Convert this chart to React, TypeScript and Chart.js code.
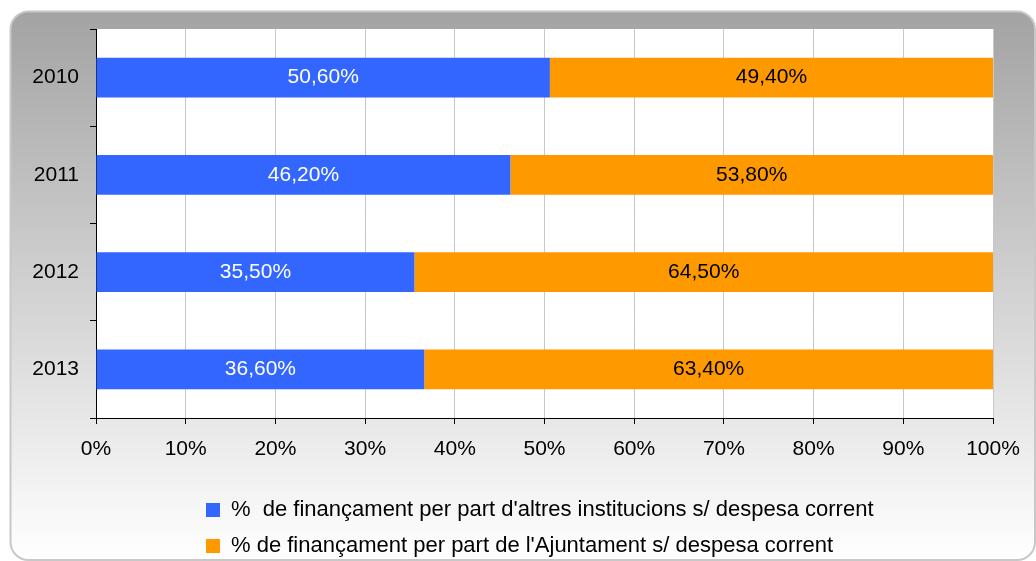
import React, { useEffect, useRef } from "react";
import { Chart, registerables } from "chart.js";

Chart.register(...registerables);

const categories = ["2010", "2011", "2012", "2013"];
const otherInstitutions = [50.6, 46.2, 35.5, 36.6];
const cityCouncil = [49.4, 53.8, 64.5, 63.4];
const seriesNames = [
  "%  de finançament per part d'altres institucions s/ despesa corrent",
  "% de finançament per part de l'Ajuntament s/ despesa corrent",
];
const seriesColors = ["#3366ff", "#ff9900"];
const labelColors = ["#ffffff", "#000000"];

const FONT = "'Liberation Sans', Arial, sans-serif";

const fmt = (v: number) => v.toFixed(2).replace(".", ",") + "%";

const framePlugin = {
  id: "frame",
  beforeDraw(chart: any) {
    const { ctx, chartArea } = chart;
    ctx.save();
    const x = 10.5, y = 11.5, w = 1036 - 11.5, h = 560 - 11.5, r = 18;
    const g = ctx.createLinearGradient(0, y, 0, y + h);
    g.addColorStop(0, "#a3a3a3");
    g.addColorStop(1, "#ffffff");
    ctx.beginPath();
    ctx.moveTo(x + r, y);
    ctx.lineTo(x + w - r, y);
    ctx.arcTo(x + w, y, x + w, y + r, r);
    ctx.lineTo(x + w, y + h - r);
    ctx.arcTo(x + w, y + h, x + w - r, y + h, r);
    ctx.lineTo(x + r, y + h);
    ctx.arcTo(x, y + h, x, y + h - r, r);
    ctx.lineTo(x, y + r);
    ctx.arcTo(x, y, x + r, y, r);
    ctx.closePath();
    ctx.fillStyle = g;
    ctx.fill();
    ctx.lineWidth = 2;
    ctx.strokeStyle = "#c8c8c8";
    ctx.stroke();
    ctx.fillStyle = "#ffffff";
    ctx.fillRect(chartArea.left, chartArea.top, chartArea.right - chartArea.left, chartArea.bottom - chartArea.top);
    ctx.restore();
  },
};

const legendPlacePlugin = {
  id: "legendPlace",
  afterLayout(chart: any) {
    const lg = chart.legend;
    if (!lg) return;
    const h = lg.height;
    lg.left = 192;
    lg.top = 485;
    lg.bottom = lg.top + h;
  },
};

const valueLabelPlugin = {
  id: "valueLabels",
  afterDatasetsDraw(chart: any) {
    const { ctx } = chart;
    ctx.save();
    ctx.font = `21px ${FONT}`;
    ctx.textAlign = "center";
    ctx.textBaseline = "middle";
    chart.data.datasets.forEach((ds: any, di: number) => {
      const meta = chart.getDatasetMeta(di);
      meta.data.forEach((el: any, i: number) => {
        const cx = (el.x + el.base) / 2;
        ctx.fillStyle = labelColors[di];
        ctx.fillText(fmt(ds.data[i]), cx, el.y);
      });
    });
    ctx.restore();
  },
};

export default function App() {
  const ref = useRef<HTMLCanvasElement | null>(null);

  useEffect(() => {
    if (!ref.current) return;
    Chart.defaults.font.family = FONT;
    Chart.defaults.color = "#000000";
    const chart = new Chart(ref.current, {
      type: "bar",
      data: {
        labels: categories,
        datasets: [
          {
            label: seriesNames[0],
            data: otherInstitutions,
            backgroundColor: seriesColors[0],
            borderWidth: 0,
            barPercentage: 0.41,
            categoryPercentage: 1,
          },
          {
            label: seriesNames[1],
            data: cityCouncil,
            backgroundColor: seriesColors[1],
            borderWidth: 0,
            barPercentage: 0.41,
            categoryPercentage: 1,
          },
        ],
      },
      options: {
        indexAxis: "y",
        responsive: false,
        animation: false,
        layout: { padding: { top: 29, right: 43, left: 0, bottom: 0 } },
        scales: {
          x: {
            type: "linear",
            stacked: true,
            min: 0,
            max: 100,
            afterFit: (s: any) => {
              s.height = 61;
            },
            ticks: {
              stepSize: 10,
              padding: 13,
              color: "#000",
              font: { size: 21, family: FONT },
              callback: (v: any) => v + "%",
            },
            grid: {
              color: (c: any) => (c.index === 0 ? "rgba(0,0,0,0)" : "#c8c8c8"),
              tickColor: "#000",
              tickLength: 6,
              lineWidth: 1,
            },
            border: { display: true, color: "#000", width: 1 },
          },
          y: {
            type: "category",
            stacked: true,
            afterFit: (s: any) => {
              s.width = 96;
            },
            ticks: {
              padding: 11,
              color: "#000",
              font: { size: 21, family: FONT },
            },
            grid: {
              offset: true,
              drawOnChartArea: false,
              drawTicks: true,
              tickLength: 6,
              tickColor: "#000",
            },
            border: { display: true, color: "#000", width: 1 },
          },
        },
        plugins: {
          legend: {
            position: "bottom",
            align: "start",
            labels: {
              boxWidth: 14,
              boxHeight: 14,
              padding: 14,
              color: "#000",
              font: { size: 22, family: FONT },
            },
          },
          tooltip: { enabled: false },
        },
      },
      plugins: [framePlugin, legendPlacePlugin, valueLabelPlugin],
    } as any);
    return () => chart.destroy();
  }, []);

  return (
    <div style={{ position: "absolute", left: 0, top: 0, width: 1036, height: 561 }}>
      <canvas ref={ref} width={1036} height={561} style={{ display: "block" }} />
    </div>
  );
}
